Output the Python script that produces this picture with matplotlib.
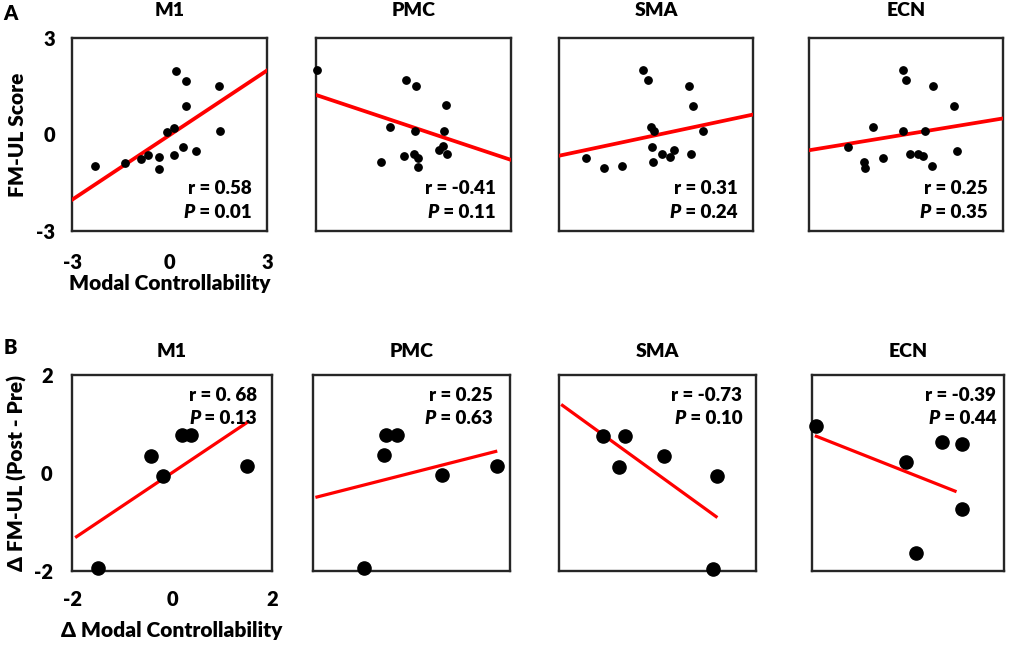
import numpy as np
import matplotlib
matplotlib.use('Agg')
import matplotlib.pyplot as plt

plt.rcParams['font.family'] = ['Lato', 'DejaVu Sans']
plt.rcParams['font.weight'] = 'heavy'
plt.rcParams['axes.unicode_minus'] = False

regions = ['M1', 'PMC', 'SMA', 'ECN']

# ---- panel A: modal controllability vs FM-UL score
a_m1_x = [-2.30, -1.36, -0.88, -0.67, -0.33, -0.33, -0.08, 0.14, 0.15, 0.21, 0.43, 0.50, 0.50, 0.83, 1.53, 1.55]
a_m1_y = [-0.99, -0.88, -0.76, -0.63, -0.69, -1.06, 0.09, 0.21, -0.63, 1.98, -0.39, 1.67, 0.89, -0.51, 1.50, 0.10]
a_pmc_x = [-2.96, -0.24, 0.09, 0.99, -0.71, 0.04, 0.94, 0.78, 0.90, 1.02, -0.30, 0.00, 0.14, 0.14, -1.00]
a_pmc_y = [2.01, 1.70, 1.51, 0.91, 0.23, 0.11, 0.12, -0.49, -0.37, -0.62, -0.68, -0.62, -0.74, -1.01, -0.86]
a_sma_x = [-0.41, -0.26, 1.03, 1.14, -0.16, -0.06, 1.44, -0.11, 0.18, 0.44, 0.56, 1.08, -0.10, -2.18, -1.62, -1.05]
a_sma_y = [2.01, 1.70, 1.51, 0.90, 0.23, 0.11, 0.11, -0.38, -0.62, -0.69, -0.49, -0.62, -0.87, -0.74, -1.05, -0.98]
a_ecn_x = [-0.08, -0.01, 0.83, 1.48, -1.02, -0.09, 0.60, -1.80, 1.59, 0.11, 0.37, 0.53, 0.80, -0.71, -1.31, -1.26]
a_ecn_y = [2.01, 1.70, 1.51, 0.90, 0.23, 0.11, 0.12, -0.38, -0.50, -0.62, -0.62, -0.68, -0.99, -0.74, -0.87, -1.05]

# fitted lines (end points)
a_fit_x = [[-3, 3], [-3, 3], [-3, 3], [-3, 3]]
a_fit_y = [[-2.03, 1.99], [1.23, -0.79], [-0.66, 0.62], [-0.49, 0.50]]
a_r = ['0.58', '-0.41', '0.31', '0.25']
a_p = ['0.01', '0.11', '0.24', '0.35']

# ---- panel B: change scores
b_m1_x = [-1.49, -0.43, -0.18, 0.19, 0.37, 1.49]
b_m1_y = [-1.93, 0.35, -0.06, 0.77, 0.77, 0.14]
b_pmc_x = [-0.97, -0.56, -0.52, -0.30, 0.61, 1.74]
b_pmc_y = [-1.93, 0.36, 0.78, 0.78, -0.05, 0.15]
b_sma_x = [-1.11, -0.66, -0.79, 0.14, 1.21, 1.12]
b_sma_y = [0.75, 0.75, 0.13, 0.34, -0.07, -1.95]
b_ecn_x = [-1.92, 0.70, 1.13, -0.05, 1.13, 0.17]
b_ecn_y = [0.95, 0.63, 0.60, 0.22, -0.73, -1.64]

b_fit_x = [[-1.91, 1.50], [-1.92, 1.71], [-1.93, 1.19], [-1.91, 0.98]]
b_fit_y = [[-1.30, 1.03], [-0.49, 0.44], [1.38, -0.89], [0.75, -0.37]]
b_r = ['0. 68', '0.25', '-0.73', '-0.39']
b_p = ['0.13', '0.63', '0.10', '0.44']

a_xs = [a_m1_x, a_pmc_x, a_sma_x, a_ecn_x]
a_ys = [a_m1_y, a_pmc_y, a_sma_y, a_ecn_y]
b_xs = [b_m1_x, b_pmc_x, b_sma_x, b_ecn_x]
b_ys = [b_m1_y, b_pmc_y, b_sma_y, b_ecn_y]

W, H = 1010, 646
fig = plt.figure(figsize=(W / 100, H / 100), dpi=100)

# axes boxes in pixels: (left, right), (top, bottom)
a_boxes = [(72, 267), (316, 511), (559, 753), (809, 1003)]
b_boxes = [(72, 272), (313, 510), (559, 756), (812, 1004)]
a_tb = (38, 231)
b_tb = (375, 571)
b_txt_x = [0.925, 0.91, 0.93, 0.96]

FS = 14
WT = 'heavy'


def make_ax(lr, tb):
    l, r = lr
    t, b = tb
    return fig.add_axes([l / W, 1 - b / H, (r - l) / W, (b - t) / H])


def style(ax):
    for s in ax.spines.values():
        s.set_linewidth(1.7)
        s.set_color('#262626')
    ax.tick_params(length=0, labelsize=FS + 0.5)


def stats(ax, x, y0, y1, r, p):
    ax.text(x, y0, 'r = ' + r, transform=ax.transAxes, ha='right', va='center',
            fontsize=FS - 0.5, fontweight=WT, zorder=6)
    t = ax.text(x, y1, ' = ' + p, transform=ax.transAxes, ha='right', va='center',
                fontsize=FS - 0.5, fontweight=WT, zorder=6)
    ax.annotate('P', xy=(0, 0), xycoords=t, ha='right', va='bottom',
                fontsize=FS - 0.5, fontweight=WT, style='italic', zorder=6)


for i, name in enumerate(regions):
    ax = make_ax(a_boxes[i], a_tb)
    style(ax)
    ax.plot(a_fit_x[i], a_fit_y[i], color='#ff0000', lw=2.7, zorder=3)
    ax.scatter(a_xs[i], a_ys[i], s=28, color='black', zorder=4, clip_on=False)
    ax.set_xlim(-3, 3)
    ax.set_ylim(-3, 3)
    ax.set_title(name, fontsize=FS, fontweight=WT, pad=16)
    stats(ax, 0.92, 0.22, 0.095, a_r[i], a_p[i])
    if i == 0:
        ax.set_xticks([-3, 0, 3])
        ax.set_yticks([-3, 0, 3])
        ax.tick_params(axis='y', pad=12)
        ax.tick_params(axis='x', pad=16)
        for lab in ax.get_xticklabels() + ax.get_yticklabels():
            lab.set_fontweight(WT)
        ax.set_xlabel('Modal Controllability', fontsize=FS + 1, fontweight=WT, labelpad=1)
        ax.set_ylabel('FM-UL Score', fontsize=FS + 1, fontweight=WT, labelpad=7)
    else:
        ax.set_xticks([])
        ax.set_yticks([])

for i, name in enumerate(regions):
    ax = make_ax(b_boxes[i], b_tb)
    style(ax)
    ax.plot(b_fit_x[i], b_fit_y[i], color='#ff0000', lw=2.3, zorder=3)
    ax.scatter(b_xs[i], b_ys[i], s=90, color='black', zorder=4, clip_on=False)
    ax.set_xlim(-2, 2)
    ax.set_ylim(-2, 2)
    ax.set_title(name, fontsize=FS, fontweight=WT, pad=13)
    stats(ax, b_txt_x[i], 0.895, 0.78, b_r[i], b_p[i])
    if i == 0:
        ax.set_xticks([-2, 0, 2])
        ax.set_yticks([-2, 0, 2])
        ax.tick_params(axis='y', pad=14)
        ax.tick_params(axis='x', pad=14)
        for lab in ax.get_xticklabels() + ax.get_yticklabels():
            lab.set_fontweight(WT)
        ax.set_xlabel('\u0394 Modal Controllability', fontsize=FS + 1, fontweight=WT, labelpad=8)
        ax.set_ylabel('\u0394 FM-UL (Post - Pre)', fontsize=FS + 1, fontweight=WT, labelpad=5)
    else:
        ax.set_xticks([])
        ax.set_yticks([])

fig.text(10 / W, 1 - 14 / H, 'A', fontsize=FS + 0.5, fontweight=WT, ha='center', va='center')
fig.text(10 / W, 1 - 347 / H, 'B', fontsize=FS + 0.5, fontweight=WT, ha='center', va='center')

fig.savefig('out.png', dpi=100)
